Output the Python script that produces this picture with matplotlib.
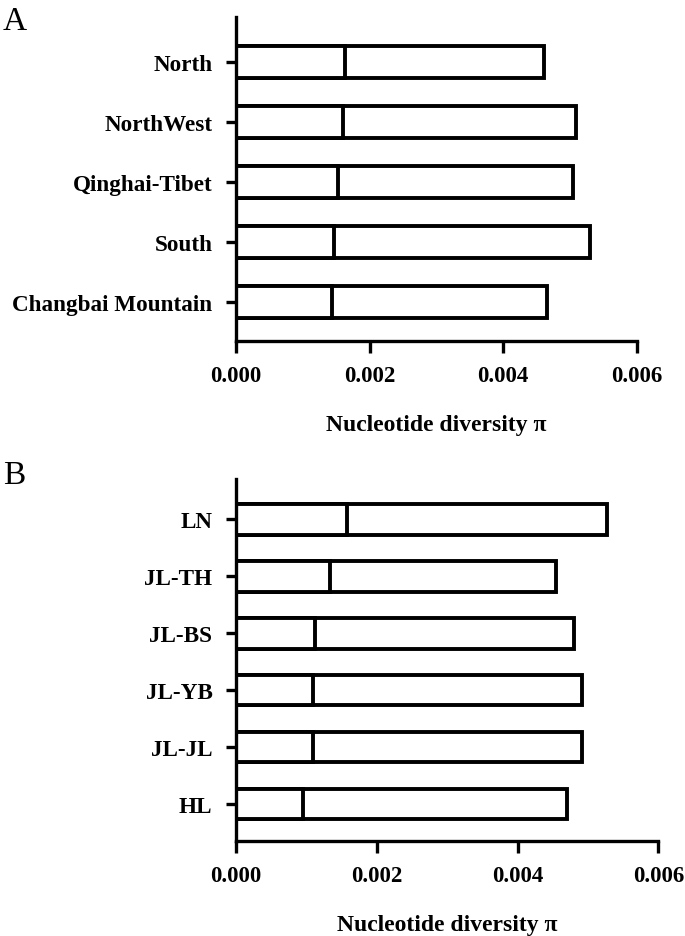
import matplotlib
matplotlib.use("Agg")
import matplotlib.pyplot as plt
import numpy as np

plt.rcParams['font.family'] = ['Liberation Serif', 'DejaVu Serif']

# Panel A: regions
regions = ['North', 'NorthWest', 'Qinghai-Tibet', 'South', 'Changbai Mountain']
regions_total = [0.00461, 0.00509, 0.00504, 0.00530, 0.00466]
regions_part = [0.00163, 0.00160, 0.00152, 0.00147, 0.00143]

# Panel B: populations
pops = ['LN', 'JL-TH', 'JL-BS', 'JL-YB', 'JL-JL', 'HL']
pops_total = [0.00527, 0.00454, 0.00480, 0.00492, 0.00492, 0.00470]
pops_part = [0.00157, 0.00133, 0.00112, 0.00109, 0.00109, 0.00095]

xticks = [0.000, 0.002, 0.004, 0.006]
xlabel = 'Nucleotide diversity \u03c0'

W, H = 685, 937
fig = plt.figure(figsize=(W / 100, H / 100), dpi=100)


def px_axes(left, top, right, bottom):
    return fig.add_axes([left / W, 1 - bottom / H, (right - left) / W, (bottom - top) / H])


def draw_panel(ax, names, total, part, ylim):
    y = np.arange(len(names))[::-1]
    ax.barh(y, total, height=0.54, color='white', edgecolor='black', linewidth=2.8)
    ax.barh(y, part, height=0.54, color='white', edgecolor='black', linewidth=2.8)
    ax.set_yticks(y)
    ax.set_yticklabels(names, fontsize=16.7, fontweight='bold')
    ax.set_xlim(0, 0.006)
    ax.set_ylim(*ylim)
    ax.set_xticks(xticks)
    ax.set_xticklabels(['%.3f' % v for v in xticks], fontsize=16.5, fontweight='bold')
    ax.set_xlabel(xlabel, fontsize=17, fontweight='bold', labelpad=20)
    for s in ['top', 'right']:
        ax.spines[s].set_visible(False)
    for s in ['left', 'bottom']:
        ax.spines[s].set_linewidth(2.4)
    ax.tick_params(axis='x', direction='out', length=8.5, width=2.4, pad=9)
    ax.tick_params(axis='y', direction='out', length=7, width=2.4, pad=10)


axA = px_axes(236, 18, 636.7, 342)
draw_panel(axA, regions, regions_total, regions_part, (-0.655, 4.745))

axB = px_axes(236, 480, 658.3, 841.7)
draw_panel(axB, pops, pops_total, pops_part, (-0.645, 5.708))

fig.text(3 / W, 1 - 30 / H, 'A', fontsize=24)
fig.text(3 / W, 1 - 484 / H, 'B', fontsize=24)

fig.savefig('out.png', dpi=100)
